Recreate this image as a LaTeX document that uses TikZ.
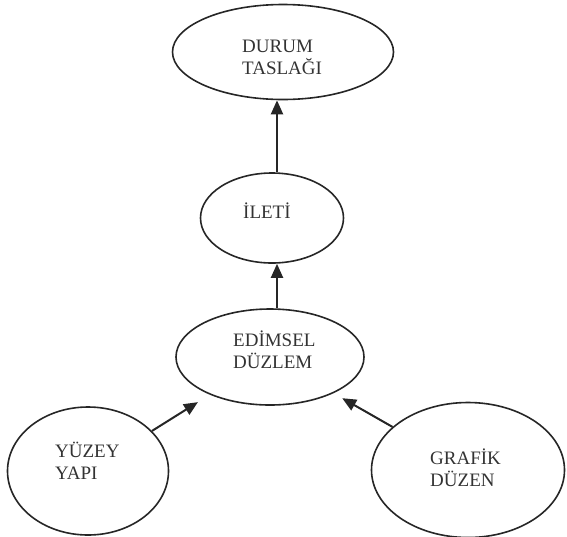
\documentclass[tikz,border=0pt]{standalone}
\usepackage{fontspec}
\setmainfont{Liberation Serif}
\usepackage{tikz}
\usetikzlibrary{arrows.meta, shapes.geometric}

\begin{document}
\begin{tikzpicture}[
  x=1pt, y=-1pt,
  bubble/.style={ellipse, draw=black!85, line width=1.6pt, inner sep=0pt},
  words/.style={anchor=west, inner sep=0pt, align=left, text=black!80, font=\fontsize{19}{22}\selectfont},
  arr/.style={-{Triangle[length=14pt, width=12pt]}, line width=2pt, draw=black!85}
]
\useasboundingbox (0,0) rectangle (567,536);
% ellipses
\node[bubble, minimum width=221pt, minimum height=95pt] (durum) at (283,52) {};
\node[bubble, minimum width=143pt, minimum height=90pt] (ileti) at (272,218) {};
\node[bubble, minimum width=188pt, minimum height=96pt] (edimsel) at (270,357) {};
\node[bubble, minimum width=161pt, minimum height=128pt] (yuzey) at (88,471) {};
\node[bubble, minimum width=193pt, minimum height=135pt] (grafik) at (468,470) {};
% texts
\node[words] (durumtxt) at (242,57) {DURUM\\TASLAĞI};
\node[words] (iletitxt) at (243,211) {İLETİ};
\node[words] (edimseltxt) at (233,350) {EDİMSEL\\DÜZLEM};
\node[words] (yuzeytxt) at (55,461) {YÜZEY\\YAPI};
\node[words] (grafiktxt) at (430,468) {GRAFİK\\DÜZEN};
% arrows
\draw[arr] ([xshift=5pt]ileti.north) -- ([xshift=5pt]ileti.north |- durum.south);
\draw[arr] ([xshift=7pt]edimsel.north) -- ([xshift=7pt]edimsel.north |- ileti.south);
\draw[arr, shorten >=14pt] (yuzey) -- (edimsel);
\draw[arr, shorten >=10pt] (grafik) -- (edimsel);
\end{tikzpicture}
\end{document}
